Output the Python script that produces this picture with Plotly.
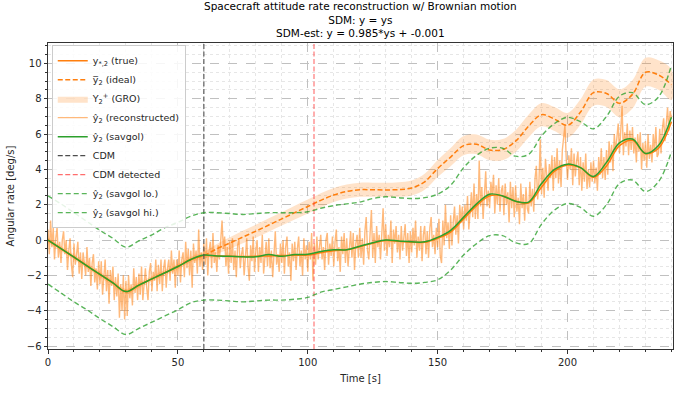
import numpy as np
import plotly.graph_objects as go

# ---------------- data ----------------
t_step_smooth = 5.0
savgol = [0.0, -0.49, -0.97, -1.46, -1.95, -2.43, -2.92, -2.55, -2.2, -1.85, -1.5, -1.1, -0.85,
          -0.9, -0.92, -0.95, -0.95, -0.82, -0.92, -0.82, -0.8,
          -0.65, -0.55, -0.55, -0.35, -0.15, 0.0, -0.05, -0.1, -0.1, 0.15,
          0.55, 1.3, 2.05, 2.6, 2.5, 2.2, 2.15, 3.2, 4.0, 4.3,
          4.1, 3.6, 4.4, 5.5, 5.72, 4.9, 5.35, 6.95]
true_rate = [0.0, -0.49, -0.97, -1.46, -1.95, -2.43, -2.92, -2.55, -2.2, -1.85, -1.5, -1.1, -0.88,
             -0.9, -0.92, -0.93, -0.92, -0.9, -0.88, -0.86, -0.85,
             -0.72, -0.6, -0.55, -0.38, -0.18, -0.03, -0.07, -0.12, -0.13, 0.1,
             0.45, 1.2, 1.95, 2.5, 2.5, 2.2, 2.1, 3.0, 3.9, 4.25,
             4.1, 3.55, 4.2, 5.35, 5.65, 4.9, 5.2, 6.7]
ideal = [0.0, -0.49, -0.97, -1.46, -1.95, -2.43, -2.92, -2.55, -2.2, -1.85, -1.5, -1.1, -0.88,
         -0.5, -0.17, 0.17, 0.5, 0.85, 1.2, 1.55, 1.9,
         2.25, 2.55, 2.75, 2.85, 2.85, 2.84, 2.86, 2.95, 3.3, 4.05,
         4.7, 5.35, 5.42, 5.1, 5.12, 5.6, 6.45, 7.1, 6.85, 6.5,
         7.25, 8.35, 8.3, 7.75, 8.25, 9.5, 9.35, 8.8]
gro_halfwidth = [0.15, 0.15, 0.15, 0.15, 0.15, 0.15, 0.15, 0.15, 0.15, 0.15, 0.15, 0.15, 0.2,
                 0.28, 0.33, 0.35, 0.37, 0.38, 0.38, 0.39, 0.39,
                 0.4, 0.4, 0.4, 0.4, 0.4, 0.4, 0.41, 0.42, 0.45, 0.48,
                 0.52, 0.55, 0.56, 0.58, 0.6, 0.62, 0.64, 0.66, 0.68, 0.7,
                 0.72, 0.74, 0.76, 0.78, 0.8, 0.82, 0.84, 0.86]
savgol_hi = [2.5, 2.05, 1.55, 1.05, 0.55, 0.1, -0.4, -0.05, 0.3, 0.7, 1.0, 1.35, 1.55,
             1.55, 1.5, 1.45, 1.5, 1.55, 1.55, 1.55, 1.6,
             1.8, 1.95, 2.05, 2.15, 2.35, 2.45, 2.4, 2.35, 2.4, 2.6,
             3.1, 4.1, 4.8, 5.2, 5.2, 4.75, 4.85, 5.9, 6.6, 6.95,
             6.7, 6.3, 7.0, 8.15, 8.35, 7.67, 8.1, 9.9]
savgol_lo = [-2.5, -3.0, -3.5, -3.95, -4.45, -4.9, -5.35, -5.0, -4.65, -4.3, -3.95, -3.55, -3.4,
             -3.4, -3.45, -3.5, -3.45, -3.4, -3.4, -3.35, -3.25,
             -2.95, -2.8, -2.65, -2.5, -2.4, -2.35, -2.4, -2.45, -2.4, -2.25,
             -1.7, -0.85, -0.2, 0.25, 0.25, -0.15, -0.2, 0.9, 1.7, 2.07,
             1.85, 1.35, 2.0, 3.2, 3.4, 2.75, 3.3, 5.0]

t_step_recon = 0.5
reconstructed = [
    0.6, -0.8, 1.1, -0.4, 0.7, -1.1, 0.1, 0.7, -1.0, -0.1,
    -1.3, 0.0, 0.5, -0.8, 0.0, -1.7, -0.6, 0.1, -1.4, -2.1,
    -0.2, -1.4, -0.8, -0.1, -1.9, -0.7, -2.2, -0.7, -1.3, -2.0,
    -0.4, -1.8, -1.0, -2.6, -1.3, -0.8, -2.4, -1.6, -2.8, -1.2,
    -2.5, -1.2, -3.1, -1.8, -1.1, -2.9, -1.7, -3.6, -1.7, -2.6,
    -1.5, -3.4, -2.1, -3.2, -1.9, -4.4, -2.5, -4.0, -2.0, -4.5,
    -2.3, -4.3, -2.0, -3.3, -2.5, -3.7, -1.6, -3.0, -2.1, -3.4,
    -1.9, -3.1, -1.5, -3.4, -2.2, -1.6, -2.7, -3.4, -1.8, -1.3,
    -2.9, -1.8, -2.3, -1.1, -2.9, -1.4, -2.5, -1.1, -2.9, -1.6,
    -1.1, -2.7, -1.6, -1.1, -2.3, -0.6, -1.9, -1.1, -2.7, -1.1,
    -2.0, -0.6, -2.4, -1.1, -0.7, -2.1, -0.1, -1.6, -0.5, -2.0,
    -0.6, -2.7, -0.2, -1.3, -0.6, -1.9, 0.6, -1.5, -0.7, -1.7,
    -0.2, -1.4, 0.1, -2.0, -0.6, -0.1, -1.6, 0.4, -1.3, -0.7,
    -1.8, -0.3, -1.1, 0.0, 1.1, -0.5, 0.2, -1.5, -0.4, -1.9,
    -0.1, -1.3, 0.1, -1.7, -0.6, -2.1, -0.3, 0.0, -1.6, -0.8,
    -0.4, -2.0, -0.6, 0.1, -1.5, -2.3, -0.3, -1.2, 0.2, -1.8,
    -0.6, 0.0, -1.8, -0.4, -1.3, 0.3, -1.9, -0.7, -0.1, -1.5,
    0.1, -1.6, -0.6, -2.1, -0.3, 0.5, -1.4, -0.8, -1.8, -0.2,
    -1.3, 0.0, -1.9, -0.4, 0.2, -1.5, -0.7, -2.3, -0.2, -1.2,
    -0.1, -1.7, -0.5, 0.2, -1.5, -0.6, -2.0, 0.1, -1.1, -0.3,
    -1.8, -0.1, -1.1, 0.4, -2.3, -0.2, -1.4, 0.2, -1.1, -0.4,
    0.3, -1.1, -0.4, -1.7, 0.0, 0.4, -1.4, -0.2, -0.9, 0.2,
    -1.5, -0.1, 0.6, -1.2, -0.4, -1.8, 0.2, -0.8, 0.4, -1.3,
    0.1, -1.5, -0.2, 0.5, -1.0, 0.4, -1.7, -0.2, 0.3, -1.0,
    0.7, -1.0, 0.1, -1.4, 0.5, 1.3, -0.6, -1.1, 0.4, 1.7,
    -1.0, 0.4, -1.3, 0.8, -0.4, 0.3, -1.1, 0.7, 1.8, -0.6,
    0.9, -0.9, 0.3, -0.4, 1.1, -1.3, 0.6, -0.2, 0.8, -0.7,
    0.3, -1.1, 0.8, -0.6, 0.1, 0.9, -0.9, 0.4, -1.3, 0.5,
    -0.7, 0.7, -0.3, 1.1, -1.0, 0.2, -0.6, 0.8, -1.2, 0.3,
    0.8, -0.8, 0.5, -1.0, 0.7, 1.3, -0.4, 0.3, -0.8, 0.7,
    -0.4, 1.2, -0.9, -1.3, 1.1, -0.3, 2.0, 0.1, 1.0, -0.5,
    1.4, -0.3, 1.0, 1.9, 0.3, 1.4, -0.2, 2.0, 1.0, 1.9,
    0.6, 2.0, 1.1, 2.5, 0.6, 2.0, 2.7, 1.3, 3.2, 1.2,
    2.6, 1.2, 4.5, 1.9, 3.0, 1.2, 2.8, 3.9, 1.9, 2.8,
    1.8, 3.3, 2.5, 3.7, 1.5, 3.1, 2.0, 3.5, 1.6, 2.8,
    3.1, 1.4, 3.2, 2.0, 2.7, 1.0, 3.3, 1.8, 3.0, 1.3,
    3.1, 1.6, 2.4, 0.9, 3.2, 1.8, 2.6, 1.1, 3.0, 1.8,
    1.5, 3.3, 1.9, 2.9, 1.6, 3.5, 4.2, 2.3, 3.3, 5.7,
    2.6, 4.1, 2.4, 4.6, 3.7, 2.8, 4.3, 3.5, 4.8, 2.8,
    4.7, 3.5, 5.2, 3.2, 4.5, 3.0, 5.1, 5.8, 6.5, 4.6,
    3.4, 4.8, 4.0, 5.2, 3.1, 4.9, 3.6, 4.5, 5.0, 3.1,
    4.7, 2.8, 4.4, 3.3, 4.9, 2.9, 4.0, 3.0, 4.4, 3.3,
    4.5, 3.2, 4.1, 2.8, 4.7, 3.7, 5.2, 3.5, 4.7, 3.4,
    5.1, 3.7, 5.6, 4.4, 5.4, 3.9, 6.0, 5.0, 5.9, 6.6,
    4.9, 6.1, 7.6, 4.8, 6.1, 5.3, 6.6, 4.8, 6.2, 5.1,
    6.4, 4.9, 5.8, 4.4, 6.0, 5.0, 6.1, 4.0, 5.5, 4.5,
    5.6, 4.1, 6.0, 4.6, 5.4, 4.4, 6.0, 5.0, 6.4, 4.7,
    4.9, 6.3, 4.9, 6.3, 6.9, 5.6, 6.6, 7.5, 6.2, 7.3,
    6.9,
]

cdm_time = 60.0
cdm_detected_time = 102.4

x_range = [0, 240.6]
y_range = [-6.17, 11.16]

title_lines = ["Spacecraft attitude rate reconstruction w/ Brownian motion",
               "SDM: y = ys",
               "SDM-est: y = 0.985*ys + -0.001"]

# ---------------- build ----------------
t_s = np.arange(len(savgol)) * t_step_smooth
t_r = np.arange(len(reconstructed)) * t_step_recon
ideal_a = np.array(ideal)
hw = np.array(gro_halfwidth)
gro_up = ideal_a + hw
gro_dn = ideal_a - hw

ORANGE = "#ff7f0e"
GREEN = "#2ca02c"

fig = go.Figure()
fig.add_trace(go.Scatter(x=t_s, y=true_rate, mode="lines", line=dict(color=ORANGE, width=1.5, shape="spline"),
                         name="y<sub>*,2</sub> (true)"))
fig.add_trace(go.Scatter(x=t_s, y=ideal, mode="lines",
                         line=dict(color=ORANGE, width=1.5, dash="5px,2.5px", shape="spline"),
                         name="y̅<sub>2</sub> (ideal)"))
fig.add_trace(go.Scatter(x=np.concatenate([t_s, t_s[::-1]]), y=np.concatenate([gro_up, gro_dn[::-1]]),
                         mode="lines", fill="toself", fillcolor="rgba(255,127,14,0.22)",
                         line=dict(width=0, shape="spline", color="rgba(255,127,14,0)"),
                         name="Y<sub>2</sub><sup>+</sup> (GRO)"))
fig.add_trace(go.Scatter(x=t_r, y=reconstructed, mode="lines",
                         line=dict(color="rgba(255,127,14,0.55)", width=1.4),
                         name="ŷ<sub>2</sub> (reconstructed)"))
fig.add_trace(go.Scatter(x=t_s, y=savgol, mode="lines", line=dict(color=GREEN, width=1.5, shape="spline"),
                         name="ŷ<sub>2</sub> (savgol)"))
fig.add_trace(go.Scatter(x=[cdm_time, cdm_time], y=y_range, mode="lines",
                         line=dict(color="#4d4d4d", width=1.1, dash="5px,2.5px"), name="CDM"))
fig.add_trace(go.Scatter(x=[cdm_detected_time, cdm_detected_time], y=y_range, mode="lines",
                         line=dict(color="rgba(255,60,60,0.75)", width=1.1, dash="5px,2.5px"), name="CDM detected"))
fig.add_trace(go.Scatter(x=t_s, y=savgol_lo, mode="lines",
                         line=dict(color="rgba(44,160,44,0.78)", width=1.4, dash="5px,3px", shape="spline"),
                         name="ŷ<sub>2</sub> (savgol lo.)"))
fig.add_trace(go.Scatter(x=t_s, y=savgol_hi, mode="lines",
                         line=dict(color="rgba(44,160,44,0.78)", width=1.4, dash="5px,3px", shape="spline"),
                         name="ŷ<sub>2</sub> (savgol hi.)"))

axis_common = dict(
    showline=True, linecolor="#333333", linewidth=1, mirror=True,
    ticks="outside", ticklen=3.5, tickcolor="#333333", tickwidth=1,
    showgrid=True, gridcolor="#c0c0c0", griddash="dash", gridwidth=0.8,
    zeroline=False, tickfont=dict(size=10, color="#262626"),
)
fig.update_xaxes(range=x_range, tick0=0, dtick=50,
                 minor=dict(dtick=10, ticks="outside", ticklen=2, tickcolor="#333333",
                            showgrid=True, gridcolor="#e6e6e6", griddash="dot", gridwidth=0.8),
                 title=dict(text="Time [s]", standoff=8, font=dict(size=10)), **axis_common)
fig.update_yaxes(range=y_range, tick0=0, dtick=2,
                 minor=dict(dtick=0.5, ticks="outside", ticklen=2, tickcolor="#333333",
                            showgrid=True, gridcolor="#e6e6e6", griddash="dot", gridwidth=0.8),
                 title=dict(text="Angular rate [deg/s]", standoff=10, font=dict(size=10)), **axis_common)

fig.add_annotation(text="<br>".join(title_lines), xref="paper", yref="paper", x=0.5, y=1.0,
                   xanchor="center", yanchor="bottom", yshift=2, showarrow=False, align="center",
                   font=dict(size=10.5, color="#000000"))

fig.update_layout(
    width=684, height=393,
    margin=dict(l=47, r=10, t=43, b=37),
    paper_bgcolor="white", plot_bgcolor="white",
    font=dict(family="DejaVu Sans", size=10, color="#262626"),
    legend=dict(x=0.006, y=0.993, xanchor="left", yanchor="top",
                bgcolor="rgba(255,255,255,0.85)", bordercolor="#cccccc", borderwidth=1,
                font=dict(size=9.5, color="#262626"), tracegroupgap=0, itemwidth=30),
    showlegend=True,
)

fig.write_html("out.html")
